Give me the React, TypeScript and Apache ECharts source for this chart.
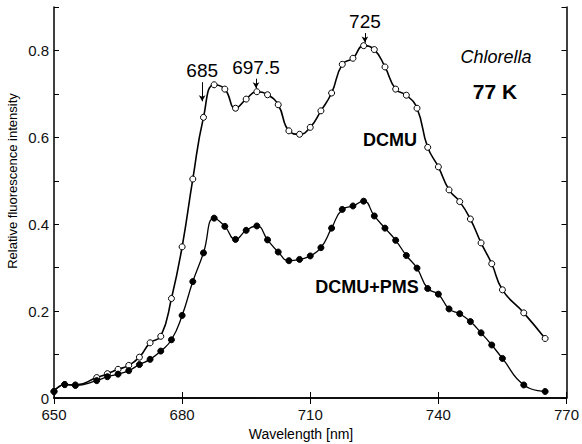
import React, { useEffect, useRef } from "react";
import * as echarts from "echarts";

const wavelengths = [
  650, 652.5, 655, 660, 662.5, 665, 667.5, 670, 672.5, 675, 677.5, 680, 682.5, 685, 687.5, 690,
  692.5, 695, 697.5, 700, 702.5, 705, 707.5, 710, 712.5, 715, 717.5, 720, 722.5, 725, 727.5, 730,
  732.5, 735, 737.5, 740, 742.5, 745, 747.5, 750, 752.5, 755, 760, 765,
];
const dcmu = [
  0.015, 0.031, 0.03, 0.047, 0.056, 0.066, 0.075, 0.094, 0.127, 0.142, 0.229, 0.348, 0.504, 0.646,
  0.721, 0.711, 0.667, 0.688, 0.705, 0.698, 0.675, 0.615, 0.607, 0.623, 0.661, 0.702, 0.768, 0.782,
  0.811, 0.802, 0.762, 0.711, 0.697, 0.667, 0.577, 0.532, 0.479, 0.452, 0.412, 0.357, 0.309, 0.249,
  0.196, 0.137,
];
const dcmuPms = [
  0.015, 0.031, 0.029, 0.04, 0.049, 0.055, 0.063, 0.077, 0.089, 0.108, 0.134, 0.19, 0.268, 0.334,
  0.414, 0.395, 0.365, 0.386, 0.396, 0.364, 0.336, 0.316, 0.319, 0.327, 0.346, 0.391, 0.434, 0.442,
  0.453, 0.419, 0.391, 0.363, 0.328, 0.299, 0.252, 0.239, 0.205, 0.194, 0.176, 0.15, 0.122, 0.091,
  0.03, 0.015,
];
const peakLabels = ["685", "697.5", "725"];
const peakX = [684.7, 697.3, 722.8];
const arrowTop = [0.727, 0.735, 0.84];
const arrowTip = [0.683, 0.713, 0.818];

const FONT = "Liberation Sans, Arial, sans-serif";

export default function App() {
  const ref = useRef<HTMLDivElement>(null);
  useEffect(() => {
    if (!ref.current) return;
    const chart = echarts.init(ref.current, null, { renderer: "svg" });
    const open = wavelengths.map((w, i) => [w, dcmu[i]]);
    const filled = wavelengths.map((w, i) => [w, dcmuPms[i]]);
    const yFmt = (v: number) => {
      const k = Math.round(v * 10);
      if (k % 2 !== 0) return "";
      return k === 0 ? "0" : v.toFixed(1);
    };
    const axisLine = { show: true, lineStyle: { color: "#000", width: 1.5 } };
    chart.setOption({
      animation: false,
      backgroundColor: "#fff",
      grid: { left: 54, right: 13, top: 7, bottom: 46 },
      xAxis: [
        {
          type: "value",
          min: 650,
          max: 770,
          interval: 30,
          position: "bottom",
          axisLine,
          axisTick: { show: true, inside: true, length: 6, lineStyle: { color: "#000" } },
          axisLabel: { color: "#111", fontSize: 15, fontFamily: FONT, margin: 9 },
          splitLine: { show: false },
        },
        {
          type: "value",
          min: 650,
          max: 770,
          interval: 30,
          position: "top",
          axisLine,
          axisTick: { show: true, inside: true, length: 6, lineStyle: { color: "#000" } },
          axisLabel: { show: false },
          splitLine: { show: false },
        },
      ],
      yAxis: [
        {
          type: "value",
          min: 0,
          max: 0.9,
          interval: 0.1,
          position: "left",
          axisLine,
          axisTick: { show: true, inside: true, length: 5, lineStyle: { color: "#000" } },
          axisLabel: { color: "#111", fontSize: 15, fontFamily: FONT, margin: 5, formatter: yFmt },
          splitLine: { show: false },
        },
        {
          type: "value",
          min: 0,
          max: 0.9,
          interval: 0.1,
          position: "right",
          axisLine,
          axisTick: { show: true, inside: true, length: 5, lineStyle: { color: "#000" } },
          axisLabel: { show: false },
          splitLine: { show: false },
        },
      ],
      series: [
        {
          name: "DCMU",
          type: "line",
          data: open,
          smooth: 0.5,
          symbol: "circle",
          symbolSize: 6,
          showAllSymbol: true,
          lineStyle: { color: "#000", width: 1.6 },
          itemStyle: { color: "#fff", borderColor: "#000", borderWidth: 1 },
          markLine: {
            silent: true,
            symbol: ["none", "arrow"],
            symbolSize: [5, 6],
            lineStyle: { color: "#000", width: 1, type: "solid" },
            label: {
              show: true,
              position: "start",
              distance: 2,
              color: "#000",
              fontSize: 19,
              fontFamily: FONT,
            },
            data: peakLabels.map((t, i) => [
              { coord: [peakX[i], arrowTop[i]], label: { formatter: t } },
              { coord: [peakX[i], arrowTip[i]] },
            ]),
          },
        },
        {
          name: "DCMU+PMS",
          type: "line",
          data: filled,
          smooth: 0.5,
          symbol: "circle",
          symbolSize: 6,
          showAllSymbol: true,
          lineStyle: { color: "#000", width: 1.3 },
          itemStyle: { color: "#000", borderColor: "#000", borderWidth: 1 },
        },
      ],
      graphic: [
        {
          type: "text",
          x: 12,
          y: 181,
          rotation: Math.PI / 2,
          style: {
            text: "Relative fluorescence intensity",
            fontSize: 13,
            fontFamily: FONT,
            fill: "#000",
            align: "center",
            verticalAlign: "middle",
          },
        },
        {
          type: "text",
          x: 301,
          y: 434,
          style: {
            text: "Wavelength [nm]",
            fontSize: 14,
            fontFamily: FONT,
            fill: "#000",
            align: "center",
            verticalAlign: "middle",
          },
        },
        {
          type: "text",
          x: 496,
          y: 57,
          style: {
            text: "Chlorella",
            fontSize: 18,
            fontStyle: "italic",
            fontFamily: FONT,
            fill: "#000",
            align: "center",
            verticalAlign: "middle",
          },
        },
        {
          type: "text",
          x: 495,
          y: 91,
          style: {
            text: "77 K",
            fontSize: 21,
            fontWeight: "bold",
            fontFamily: FONT,
            fill: "#000",
            align: "center",
            verticalAlign: "middle",
          },
        },
        {
          type: "text",
          x: 390,
          y: 140,
          style: {
            text: "DCMU",
            fontSize: 18,
            fontWeight: "bold",
            fontFamily: FONT,
            fill: "#000",
            align: "center",
            verticalAlign: "middle",
          },
        },
        {
          type: "text",
          x: 367,
          y: 287,
          style: {
            text: "DCMU+PMS",
            fontSize: 18,
            fontWeight: "bold",
            fontFamily: FONT,
            fill: "#000",
            align: "center",
            verticalAlign: "middle",
          },
        },
      ],
    });
    return () => chart.dispose();
  }, []);
  return <div ref={ref} style={{ width: 582, height: 444, position: "absolute", left: 0, top: 0 }} />;
}
